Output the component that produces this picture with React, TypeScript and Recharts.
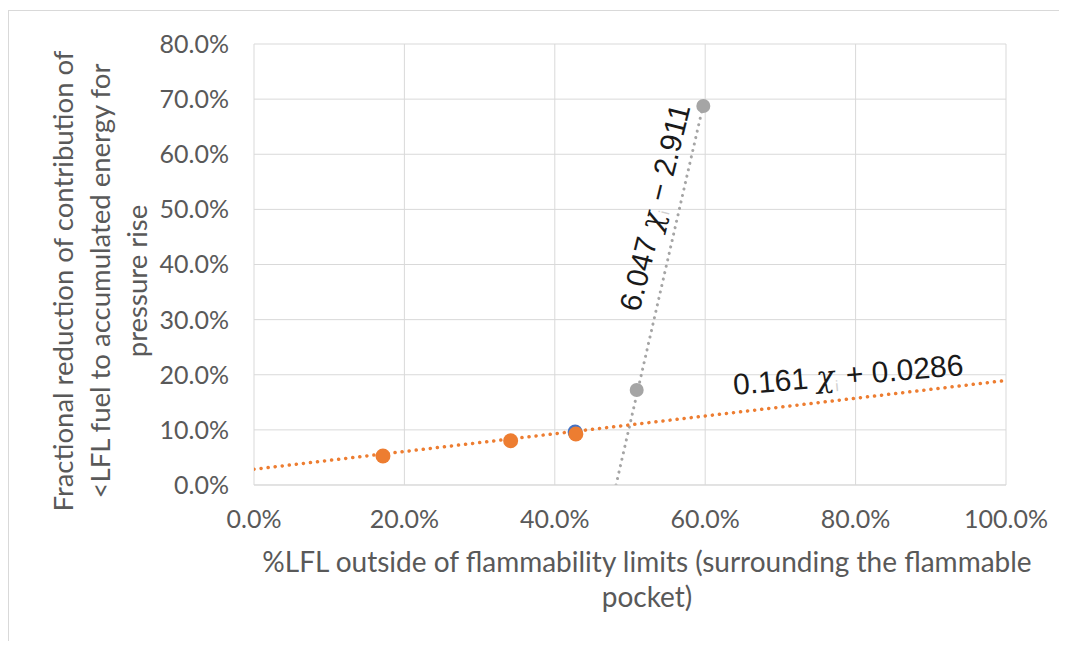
import React from 'react';
import { ComposedChart, Scatter, Line, XAxis, YAxis, CartesianGrid } from 'recharts';

const orangePoints = [
  { x: 0.1715, y: 0.0526 },
  { x: 0.3413, y: 0.0804 },
  { x: 0.428, y: 0.0925 },
];
const bluePoints = [{ x: 0.427, y: 0.096 }];
const grayPoints = [
  { x: 0.5089, y: 0.1723 },
  { x: 0.5975, y: 0.6875 },
];
const orangeTrend = [
  { x: 0, y: 0.0286 },
  { x: 1, y: 0.1896 },
];
const grayTrend = [
  { x: 0.4814, y: 0 },
  { x: 0.5975, y: 0.69 },
];
const xTicks = [0, 0.2, 0.4, 0.6, 0.8, 1.0];
const yTicks = [0, 0.1, 0.2, 0.3, 0.4, 0.5, 0.6, 0.7, 0.8];
const xTitle = ['%LFL outside of flammability limits (surrounding the flammable', 'pocket)'];
const yTitle = ['Fractional reduction of contribution of', '<LFL fuel to accumulated energy for', 'pressure rise'];
const orangeEq = { coef: '0.161', rest: ' + 0.0286' };
const grayEq = { coef: '6.047', rest: ' \u2212 2.911' };

const ORANGE = '#ED7D31';
const GRAY = '#A5A5A5';
const BLUE = '#4472C4';
const TEXT = '#595959';
const GRID = '#d9d9d9';
const FONT = 'Lato, "Open Sans", sans-serif';
const EQFONT = '"Liberation Sans", Arial, sans-serif';

const pct = (v: number) => (v * 100).toFixed(1) + '%';

const dot = (color: string, r: number) => (props: any) =>
  props.cx == null ? <g /> : <circle cx={props.cx} cy={props.cy} r={r} fill={color} />;

const W = 1051;
const H = 633;

const Eq = ({ coef, rest, transform }: { coef: string; rest: string; transform: string }) => (
  <text fill="#1a1a1a" fontSize={30} fontFamily={EQFONT} textAnchor="middle" transform={transform}>
    {coef + ' '}
    <tspan fontStyle="italic" fontFamily='"DejaVu Serif", serif'>χ</tspan>
    <tspan fontSize={15} fill="#d0d0d0" dy={5}>i</tspan>
    <tspan dy={-5}>{rest}</tspan>
  </text>
);

export default function App() {
  return (
    <div style={{ position: 'relative', width: W, height: H }}>
      <div style={{ position: 'absolute', left: 0, top: 2, width: W + 8, height: 1, background: GRID }} />
      <div style={{ position: 'absolute', left: 0, top: 2, width: 1, height: H + 6, background: GRID }} />
      <ComposedChart
        width={W}
        height={H}
        margin={{ top: 36, right: 53, bottom: 116, left: 166 }}
        style={{ position: 'absolute', left: 0, top: 0 }}
      >
        <CartesianGrid stroke={GRID} strokeWidth={1} />
        <XAxis
          dataKey="x"
          type="number"
          domain={[0, 1]}
          ticks={xTicks}
          tickFormatter={pct}
          height={40}
          axisLine={{ stroke: GRID }}
          tickLine={false}
          tickSize={0}
          tickMargin={25}
          tick={{ fill: TEXT, fontSize: 25, fontFamily: FONT }}
          allowDataOverflow
        />
        <YAxis
          dataKey="y"
          type="number"
          domain={[0, 0.8]}
          ticks={yTicks}
          tickFormatter={pct}
          width={80}
          axisLine={false}
          tickLine={false}
          tickSize={0}
          tickMargin={25}
          tick={{ fill: TEXT, fontSize: 25, fontFamily: FONT }}
          allowDataOverflow
        />
        <Line
          data={grayTrend}
          dataKey="y"
          type="linear"
          stroke={GRAY}
          strokeWidth={3}
          strokeDasharray="0.1 6.5"
          strokeLinecap="round"
          dot={false}
          activeDot={false}
          isAnimationActive={false}
        />
        <Line
          data={orangeTrend}
          dataKey="y"
          type="linear"
          stroke={ORANGE}
          strokeWidth={3.5}
          strokeDasharray="0.1 7"
          strokeLinecap="round"
          dot={false}
          activeDot={false}
          isAnimationActive={false}
        />
        <Scatter data={bluePoints} dataKey="y" shape={dot(BLUE, 7.5)} isAnimationActive={false} />
        <Scatter data={orangePoints} dataKey="y" shape={dot(ORANGE, 7.5)} isAnimationActive={false} />
        <Scatter data={grayPoints} dataKey="y" shape={dot(GRAY, 7)} isAnimationActive={false} />
      </ComposedChart>
      <svg
        width={W}
        height={H}
        style={{ position: 'absolute', left: 0, top: 0, pointerEvents: 'none' }}
      >
        <text fill={TEXT} fontSize={28} fontFamily={FONT} textAnchor="middle">
          <tspan x={639} y={564}>{xTitle[0]}</tspan>
          <tspan x={639} y={599}>{xTitle[1]}</tspan>
        </text>
        <text fill={TEXT} fontSize={27.5} fontFamily={FONT} textAnchor="middle" transform="rotate(-90)">
          <tspan x={-273} y={65}>{yTitle[0]}</tspan>
          <tspan x={-273} y={102}>{yTitle[1]}</tspan>
          <tspan x={-273} y={139}>{yTitle[2]}</tspan>
        </text>
        <Eq coef={orangeEq.coef} rest={orangeEq.rest} transform="translate(841,377) rotate(-5)" />
        <Eq coef={grayEq.coef} rest={grayEq.rest} transform="translate(657,202) rotate(-76)" />
      </svg>
    </div>
  );
}
